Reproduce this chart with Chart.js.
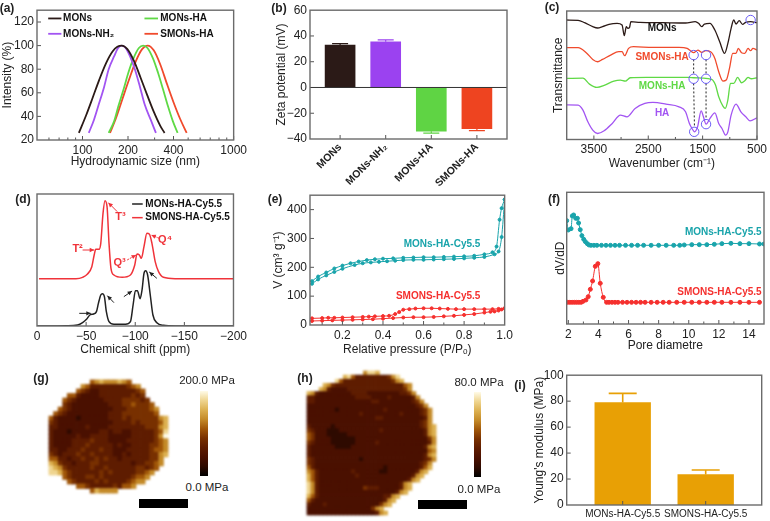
<!DOCTYPE html>
<html>
<head>
<meta charset="utf-8">
<title>Nanoparticle characterisation</title>
<script src="https://cdn.jsdelivr.net/npm/chart.js@4"></script>
<style>
  html, body { margin: 0; background: #fff; }
  #page { position: relative; width: 770px; height: 521px; overflow: hidden; font-family: "Liberation Sans", Arial, sans-serif; color: #222; }
  canvas { position: absolute; }
  .txt { position: absolute; white-space: nowrap; transform: translate(-50%, -50%); font-size: 11.5px; }
  .tag { font-weight: bold; font-size: 12px; }
  .blk { position: absolute; }
</style>
</head>
<body>
<div id="page"></div>
<script>
// (a) size distribution
const aMonsX = [94.6, 105.7, 116.9, 129, 143, 158, 170, 182, 198, 219, 242, 268, 296, 327, 349];
const aMonsY = [26, 41, 56, 71, 85, 95, 99, 100, 97, 87, 73, 58, 44, 32, 26];
const aNh2X = [110, 119, 128, 139, 149, 162, 172, 182, 193, 206, 222, 240, 258, 283, 306];
const aNh2Y = [26, 37, 50, 65, 80, 91, 98, 100, 98, 91, 80, 65, 50, 37, 26];
const aHaX = [149, 162, 173, 187, 201, 217, 236, 252, 269, 293, 316, 341, 367, 396, 426];
const aHaY = [26, 36, 49, 63, 77, 89, 98, 100, 98, 89, 77, 63, 49, 36, 26];
const aSmonX = [152, 166, 184, 203, 224, 248, 270, 296, 327, 361, 400, 442, 489];
const aSmonY = [26, 38, 55, 71, 86, 97, 100, 96, 84, 68, 52, 38, 26];

// (b) zeta potential
const bNames = ["MONs", "MONs-NH₂", "MONs-HA", "SMONs-HA"];
const bValues = [33, 35.5, -34, -32];
const bErrors = [34, 37, -35.5, -33.5];

// (c) FTIR
const cMonsX = [4000, 3790, 3671, 3521, 3431, 3341, 3222, 3072, 2982, 2940, 2904, 2874, 2844, 2820, 2653, 2234, 1814, 1635, 1575, 1515, 1467, 1365, 1275, 1186, 1096, 1036, 976, 928, 886, 826, 766, 706, 617, 500];
const cMonsY = [358, 357, 350, 338, 334, 338, 345, 348, 343, 311, 338, 333, 336, 353, 351, 350, 349, 353, 348, 338, 346, 348, 328, 293, 258, 288, 333, 358, 346, 356, 345, 351, 353, 350];
const cSmonX = [4000, 3790, 3641, 3521, 3431, 3341, 3192, 3042, 2982, 2934, 2862, 2772, 2413, 1934, 1784, 1725, 1665, 1587, 1515, 1443, 1353, 1275, 1204, 1126, 1066, 1006, 946, 886, 844, 784, 725, 665, 617, 575, 500];
const cSmonY = [275, 275, 260, 240, 233, 240, 253, 263, 263, 251, 273, 278, 276, 276, 273, 266, 260, 268, 261, 266, 263, 243, 203, 175, 178, 213, 258, 258, 273, 260, 258, 273, 266, 273, 268];
const cHaX = [4000, 3701, 3581, 3443, 3311, 3132, 3012, 2922, 2832, 2533, 1754, 1665, 1515, 1335, 1263, 1204, 1126, 1084, 1036, 988, 928, 856, 784, 725, 665, 605, 500];
const cHaY = [183, 184, 166, 156, 162, 175, 178, 175, 185, 186, 186, 185, 184, 180, 163, 128, 100, 93, 118, 168, 168, 186, 170, 176, 186, 182, 185];
const cPureX = [4000, 3790, 3701, 3611, 3521, 3431, 3311, 3162, 3012, 2892, 2742, 2563, 2413, 2174, 1934, 1814, 1743, 1695, 1647, 1593, 1527, 1485, 1437, 1365, 1275, 1204, 1144, 1078, 1036, 976, 886, 796, 706, 628, 500];
const cPureY = [104, 103, 88, 53, 28, 18, 26, 48, 73, 68, 93, 108, 111, 106, 98, 83, 48, 33, 23, 38, 86, 68, 46, 63, 80, 48, 33, 13, 23, 73, 106, 83, 68, 56, 65];

// (d) NMR
const dMonsX = [0, -29.6, -41.3, -46.4, -50.4, -53.8, -57.5, -60.5, -62.5, -64.9, -66.6, -68.6, -70.6, -73.3, -78.3, -90.1, -95.1, -97.8, -100.2, -102.2, -104.9, -106.9, -108.9, -110.6, -112.6, -115.3, -118, -122, -128.7, -140.5, -200];
const dMonsY = [0, 1, 3, 10, 20, 33, 36, 43, 68, 93, 97, 88, 43, 13, 5, 5, 13, 63, 106, 106, 82, 108, 158, 166, 153, 93, 33, 10, 2, 0, 0];
const dSmonX = [-2, -39.7, -46.4, -51.4, -55.8, -58.2, -59.8, -63.2, -64.9, -67.2, -69.2, -71.3, -73.3, -75.3, -78.3, -86.7, -95.1, -99.5, -101.8, -104.2, -106.2, -108.9, -111.9, -114.3, -117, -120.3, -123.7, -128.7, -140.5, -200];
const dSmonY = [142, 142, 146, 156, 178, 213, 230, 230, 248, 338, 376, 358, 248, 173, 153, 146, 153, 183, 216, 213, 203, 238, 278, 276, 248, 193, 163, 146, 142, 142];

// (e) isotherms
const eAdsX = [0.05, 0.08, 0.12, 0.16, 0.2, 0.26, 0.3, 0.34, 0.38, 0.42, 0.46, 0.5, 0.55, 0.6, 0.65, 0.7, 0.75, 0.8, 0.85, 0.9, 0.95, 0.97, 0.985, 1];
const eAdsY = [143, 158, 172, 184, 195, 208, 214, 217, 219, 221, 223, 225, 226, 226, 227, 228, 229, 231, 233, 236, 245, 255, 305, 435];
const eDesX = [0.05, 0.08, 0.12, 0.16, 0.2, 0.24, 0.28, 0.32, 0.36, 0.4, 0.45, 0.5, 0.55, 0.6, 0.65, 0.7, 0.75, 0.8, 0.85, 0.9, 0.94, 0.96, 0.975, 0.985, 1];
const eDesY = [152, 168, 182, 196, 206, 214, 220, 225, 228, 230, 231, 233, 234, 235, 235, 236, 237, 238, 240, 245, 252, 272, 365, 405, 435];
const eSAdsX = [0.05, 0.1, 0.15, 0.2, 0.25, 0.3, 0.35, 0.4, 0.45, 0.5, 0.55, 0.6, 0.65, 0.7, 0.75, 0.8, 0.85, 0.9, 0.93, 0.95, 0.97, 0.985, 1];
const eSAdsY = [14, 15, 16, 17, 18, 19, 20, 22, 24, 26, 27, 27, 28, 30, 32, 35, 38, 43, 46, 47, 50, 54, 58];
const eSDesX = [0.05, 0.1, 0.13, 0.16, 0.2, 0.25, 0.3, 0.33, 0.36, 0.4, 0.43, 0.46, 0.48, 0.5, 0.53, 0.56, 0.6, 0.64, 0.68, 0.72, 0.76, 0.8, 0.85, 0.9, 0.94, 0.97, 1];
const eSDesY = [23, 24, 25, 25, 26, 27, 28, 29, 30, 31, 32, 38, 45, 53, 55, 57, 58, 58, 57, 56, 55, 55, 55, 55, 55, 56, 58];

// (f) pore size
const fMonsX = [1.89, 2, 2.18, 2.26, 2.35, 2.49, 2.6, 2.68, 2.79, 2.9, 3.02, 3.13, 3.26, 3.37, 3.5, 3.7, 3.9, 4.2, 4.5, 4.8, 5.1, 5.4, 5.8, 6.2, 6.6, 7, 7.5, 8, 8.5, 9, 9.4, 9.7, 10.2, 10.7, 11.2, 11.7, 12.2, 12.8, 13.4, 14, 14.7, 15];
const fMonsY = [310, 282, 286, 324, 327, 317, 317, 303, 283, 265, 254, 247, 241, 237, 236, 236, 236, 236, 236, 236, 236, 236, 236, 236, 236, 236, 236, 236, 236, 236, 236, 237, 238, 238, 238, 239, 241, 242, 241, 241, 240, 240];
const fSmonX = [1.95, 2.1, 2.25, 2.4, 2.55, 2.7, 2.85, 2.98, 3.17, 3.32, 3.46, 3.61, 3.79, 3.96, 4.12, 4.32, 4.54, 4.7, 4.9, 5.1, 5.3, 5.6, 5.9, 6.2, 6.5, 6.8, 7.1, 7.5, 7.9, 8.3, 8.7, 9.2, 9.7, 10.2, 10.7, 11.2, 11.7, 12.2, 12.8, 13.4, 14, 14.7];
const fSmonY = [65, 65, 65, 65, 65, 65, 65, 68, 72, 82, 104, 129, 173, 181, 122, 80, 65, 65, 65, 65, 65, 65, 65, 65, 65, 65, 65, 65, 65, 65, 65, 65, 65, 65, 65, 65, 65, 65, 65, 65, 65, 65];

// (g) (h) modulus maps, one digit per cell (0 dark .. 9 light)
const gRows = [
  ".........567666765",
  ".......6533333333456",
  "......543223333333345",
  "....55322223333333434",
  "...5432222223333444434",
  "...43222222223334454445",
  "..5432222222223334444456",
  ".54322222222233344444445",
  "53222212222223334344444467",
  "43222222222222333343444457",
  "33222222322223333333344467",
  "32221222222332332233333458",
  "32222232233332222233333469",
  "32222333343332222333333456",
  "32222333433333232233334456",
  "33223334333433222333334556",
  "43233343343333223233334467",
  "5533233433434332333333446",
  "7643323334433333332334456",
  "876433333433433333344345",
  "88754333333434333334456",
  "...5433344343333334556",
  "....54333343433334566",
  "......5543333343556",
  ".........576666"
];
const hRows = [
  "..............6887",
  ".........78533333333468",
  ".......85333333333333467",
  "....7643333333333333333356",
  "...76322223333333333333346",
  "763222222223333222222223346",
  "3322222222223333222232222236",
  "33222222222222223322222222346",
  "222222222222222222222222222346",
  "2222222122222222222322222222346",
  "2222222222222322222222232222346",
  "2222222222222222233222222222236",
  "2222222222222222222222222222346",
  "32222212222222222222222222223467",
  "43222111222222222232222222222367",
  "54222111112222222222222222222367",
  "54222211111122222222222222222246",
  "43222211111122222322222222222236",
  "32222221111222222222222222222367",
  "32222222222222222222222222222256",
  "32222222222222222222222222222367",
  "43222222222221222222222222222346",
  "4322222222222222222222222222346",
  "5322222222222222222122222222357",
  "653222222223222222112222222367",
  "75322222222232222222222222367",
  "7532222222222222222222222367",
  "86322222222222222222222367",
  "86322222222222433322222367",
  "8632222222222222222222367",
  "75322222222222222223367",
  "5322222222222222222367",
  "322232222222222222467",
  "2222222222222222467",
  "22222222222222222367"
];

// (i) Young's modulus
const iNames = ["MONs-HA-Cy5.5", "SMONS-HA-Cy5.5"];
const iValues = [79, 23.5];
const iErrors = [86, 27];

const black = "#2b1a17", purple = "#a254f2", green = "#5fd945", red = "#f04a2c";
const teal = "#19a4ab", red2 = "#f5302e";
const heatStops = ["#000000", "#2e0a00", "#4a1000", "#5e1c00", "#783000", "#a05608", "#c48a28", "#dcb050", "#efd590", "#fffbe8"];

Chart.defaults.font.family = '"Liberation Sans", Arial, sans-serif';
Chart.defaults.font.size = 12;
Chart.defaults.color = "#222";

const page = document.getElementById("page");

function pts(xs, ys) {
  return xs.map((x, i) => ({ x: x, y: ys[i] }));
}

function line(xs, ys, color, width, radius) {
  return {
    type: "line",
    data: pts(xs, ys),
    borderColor: color,
    backgroundColor: color,
    borderWidth: width,
    pointRadius: radius || 0,
    cubicInterpolationMode: "monotone",
    fill: false
  };
}

// plot frame and inward tick marks
Chart.register({
  id: "frame",
  afterDatasetsDraw(chart, args, opts) {
    const ctx = chart.ctx, a = chart.chartArea;
    const marks = [["x", opts.xMajor, 4], ["x", opts.xMinor, 2.5], ["y", opts.yMajor, 4], ["y", opts.yMinor, 2.5]];
    ctx.save();
    ctx.strokeStyle = "#555";
    ctx.lineWidth = 1;
    marks.forEach(([axis, list, len]) => {
      (list || []).forEach((v) => {
        const p = chart.scales[axis].getPixelForValue(v);
        ctx.beginPath();
        if (axis === "x") { ctx.moveTo(p, a.bottom); ctx.lineTo(p, a.bottom - len); }
        else { ctx.moveTo(a.left, p); ctx.lineTo(a.left + len, p); }
        ctx.stroke();
      });
    });
    if (opts.zero) {
      const p = chart.scales.y.getPixelForValue(0);
      ctx.strokeStyle = "#333";
      ctx.beginPath(); ctx.moveTo(a.left, p); ctx.lineTo(a.right, p); ctx.stroke();
    }
    ctx.strokeStyle = "#6b6b6b";
    ctx.lineWidth = 1.4;
    ctx.strokeRect(a.left, a.top, a.right - a.left, a.bottom - a.top);
    ctx.restore();
  }
});

// error bars on top of bar panels
Chart.register({
  id: "errs",
  afterDatasetsDraw(chart, args, opts) {
    if (!opts.values) return;
    const ctx = chart.ctx, xs = chart.scales.x, ys = chart.scales.y;
    ctx.save();
    ctx.lineWidth = opts.lineWidth;
    opts.values.forEach((v, i) => {
      const x = xs.getPixelForValue(i), y = ys.getPixelForValue(v);
      ctx.strokeStyle = opts.colors[i];
      ctx.beginPath();
      ctx.moveTo(x, ys.getPixelForValue(opts.from[i]));
      ctx.lineTo(x, y);
      ctx.moveTo(x - opts.cap / 2, y);
      ctx.lineTo(x + opts.cap / 2, y);
      ctx.stroke();
    });
    ctx.restore();
  }
});

// labels, arrows and circles placed in data coordinates
Chart.register({
  id: "notes",
  afterDraw(chart, args, opts) {
    const ctx = chart.ctx, xs = chart.scales.x, ys = chart.scales.y;
    const X = (v) => xs.getPixelForValue(v), Y = (v) => ys.getPixelForValue(v);
    ctx.save();
    (opts.lines || []).forEach((l) => {
      ctx.strokeStyle = l.color;
      ctx.lineWidth = l.width || 1;
      ctx.setLineDash(l.dash || []);
      ctx.beginPath(); ctx.moveTo(X(l.x1), Y(l.y1)); ctx.lineTo(X(l.x2), Y(l.y2)); ctx.stroke();
    });
    ctx.setLineDash([]);
    (opts.arrows || []).forEach((l) => {
      const x1 = X(l.x1), y1 = Y(l.y1), x2 = X(l.x2), y2 = Y(l.y2);
      const t = Math.atan2(y2 - y1, x2 - x1);
      ctx.strokeStyle = l.color; ctx.fillStyle = l.color; ctx.lineWidth = 1;
      ctx.setLineDash(l.dash || []);
      ctx.beginPath(); ctx.moveTo(x1, y1); ctx.lineTo(x2, y2); ctx.stroke();
      ctx.setLineDash([]);
      ctx.beginPath();
      ctx.moveTo(x2, y2);
      ctx.lineTo(x2 - 5 * Math.cos(t - 0.45), y2 - 5 * Math.sin(t - 0.45));
      ctx.lineTo(x2 - 5 * Math.cos(t + 0.45), y2 - 5 * Math.sin(t + 0.45));
      ctx.closePath(); ctx.fill();
    });
    (opts.circles || []).forEach((c) => {
      ctx.strokeStyle = c.color; ctx.lineWidth = 1;
      ctx.beginPath(); ctx.arc(X(c.x), Y(c.y), c.r, 0, Math.PI * 2); ctx.stroke();
    });
    (opts.labels || []).forEach((l) => {
      ctx.fillStyle = l.color;
      ctx.font = 'bold ' + (l.size || 10) + 'px "Liberation Sans", Arial, sans-serif';
      ctx.textAlign = l.align || "center";
      ctx.textBaseline = "middle";
      ctx.fillText(l.text, X(l.x), Y(l.y));
    });
    ctx.restore();
  }
});

// box is the canvas on the page, plot is where the chart area has to land
function panel(box, plot, type, datasets, xOpts, yOpts, plugins) {
  const c = document.createElement("canvas");
  c.width = box.w; c.height = box.h;
  c.style.left = box.x + "px"; c.style.top = box.y + "px";
  c.style.width = box.w + "px"; c.style.height = box.h + "px";
  page.appendChild(c);
  xOpts.afterFit = (s) => { s.height = box.y + box.h - plot.b; };
  yOpts.afterFit = (s) => { s.width = plot.l - box.x; };
  return new Chart(c, {
    type: type,
    data: { datasets: datasets },
    options: {
      responsive: false,
      animation: false,
      layout: { padding: { left: 0, bottom: 0, top: plot.t - box.y, right: box.x + box.w - plot.r } },
      scales: { x: xOpts, y: yOpts },
      plugins: Object.assign({ legend: { display: false }, tooltip: { enabled: false } }, plugins)
    }
  });
}

function axis(type, min, max, list, extra) {
  const fmt = (extra && extra.fmt) || ((v) => String(v).replace("-", "−"));
  const o = {
    type: type, min: min, max: max, offset: false,
    grid: { display: false, drawTicks: false },
    border: { display: false },
    afterBuildTicks: (s) => { s.ticks = list.map((v) => ({ value: v })); },
    ticks: Object.assign({ autoSkip: false, maxRotation: 0, minRotation: 0, padding: 3, display: list.length > 0, callback: fmt }, extra && extra.ticks)
  };
  if (extra && extra.reverse) o.reverse = true;
  if (extra && extra.title) o.title = { display: true, text: extra.title, padding: 0, font: { size: 12 } };
  return o;
}

function text(s, x, y, cls) {
  const el = document.createElement("span");
  el.className = "txt " + (cls || "");
  el.textContent = s;
  el.style.left = x + "px"; el.style.top = y + "px";
  page.appendChild(el);
}

function block(x, y, w, h, bg) {
  const el = document.createElement("div");
  el.className = "blk";
  el.style.cssText = "left:" + x + "px;top:" + y + "px;width:" + w + "px;height:" + h + "px;background:" + bg;
  page.appendChild(el);
}

function heatmap(rows, box) {
  const cols = Math.max(...rows.map((r) => r.length));
  const cells = [];
  rows.forEach((r, j) => {
    r.split("").forEach((ch, i) => {
      if (ch !== ".") cells.push({ x: i + 0.5, y: j + 0.5, v: +ch });
    });
  });
  const c = document.createElement("canvas");
  c.width = box.w; c.height = box.h;
  c.style.left = box.x + "px"; c.style.top = box.y + "px";
  c.style.width = box.w + "px"; c.style.height = box.h + "px";
  c.style.filter = "blur(0.8px)";
  page.appendChild(c);
  const cell = Math.max(box.w / cols, box.h / rows.length);
  new Chart(c, {
    type: "scatter",
    data: {
      datasets: [{
        data: cells,
        pointStyle: "rect",
        pointRadius: (cell + 0.5) / Math.SQRT2,
        borderWidth: 0,
        pointBorderWidth: 0,
        clip: false,
        pointBackgroundColor: (ctx) => heatStops[ctx.raw ? ctx.raw.v : 0]
      }]
    },
    options: {
      responsive: false,
      animation: false,
      scales: {
        x: { type: "linear", display: false, min: 0, max: cols },
        y: { type: "linear", display: false, min: 0, max: rows.length, reverse: true }
      },
      plugins: { legend: { display: false }, tooltip: { enabled: false }, frame: false, errs: false, notes: false }
    }
  });
}

// (a)
panel({ x: 0, y: 0, w: 250, h: 169 }, { l: 37, r: 236, t: 7.5, b: 140 }, "line",
  [line(aMonsX, aMonsY, black, 1.8), line(aNh2X, aNh2Y, purple, 1.8), line(aHaX, aHaY, green, 1.8), line(aSmonX, aSmonY, red, 1.8)],
  axis("logarithmic", 50, 1000, [100, 200, 400, 1000], { title: "Hydrodynamic size (nm)" }),
  axis("linear", 20, 130, [20, 40, 60, 80, 100, 120], { title: "Intensity (%)" }),
  {
    frame: { xMajor: [100, 200, 400, 1000], xMinor: [60, 70, 80, 90, 300, 500, 600, 700, 800, 900], yMajor: [40, 60, 80, 100, 120] },
    notes: {
      lines: [
        { x1: 59.3, x2: 72.5, y1: 123, y2: 123, color: black, width: 1.8 },
        { x1: 59.3, x2: 72.5, y1: 110, y2: 110, color: purple, width: 1.8 },
        { x1: 257, x2: 316, y1: 123, y2: 123, color: green, width: 1.8 },
        { x1: 257, x2: 316, y1: 110, y2: 110, color: red, width: 1.8 }
      ],
      labels: [
        { text: "MONs", x: 74.4, y: 123, color: "#111", align: "left" },
        { text: "MONs-NH₂", x: 74.4, y: 110, color: "#111", align: "left" },
        { text: "MONs-HA", x: 327, y: 123, color: "#111", align: "left" },
        { text: "SMONs-HA", x: 327, y: 110, color: "#111", align: "left" }
      ]
    }
  });
text("(a)", 7, 8, "tag");

// (b)
const bColors = [black, "#9b42f0", "#5fd444", "#ee4420"];
panel({ x: 274, y: 0, w: 240, h: 190 }, { l: 310, r: 507, t: 8.7, b: 139 }, "bar",
  [{ data: pts([0, 1, 2, 3], bValues), backgroundColor: bColors, barThickness: 30 }],
  axis("linear", -0.66, 3.66, [0, 1, 2, 3], {
    fmt: (v) => bNames[v],
    ticks: { minRotation: 45, maxRotation: 45, padding: 2, font: { size: 10.5, weight: "bold" } }
  }),
  axis("linear", -40, 60, [-40, -20, 0, 20, 40, 60], { title: "Zeta potential (mV)" }),
  {
    frame: { xMajor: [0, 1, 2, 3], yMajor: [-20, 20, 40], zero: true },
    errs: { values: bErrors, from: bValues, colors: bColors, cap: 16, lineWidth: 1.2 }
  });
text("(b)", 279, 8, "tag");

// (c)
const ring = "#6a5cf5";
panel({ x: 551, y: 0, w: 219, h: 171 }, { l: 566.7, r: 760.7, t: 11, b: 139.5 }, "line",
  [line(cMonsX, cMonsY, black, 1.3), line(cSmonX, cSmonY, red, 1.3), line(cHaX, cHaY, green, 1.3), line(cPureX, cPureY, purple, 1.3)],
  axis("linear", 500, 4000, [3500, 2500, 1500, 500], { reverse: true, title: "Wavenumber (cm⁻¹)" }),
  axis("linear", 0, 385, [], { title: "Transmittance" }),
  {
    frame: { xMajor: [3500, 2500, 1500, 500], xMinor: [3000, 2000, 1000] },
    notes: {
      lines: [
        { x1: 1665, x2: 1665, y1: 240, y2: 195, color: "#222", dash: [2, 2] },
        { x1: 1437, x2: 1437, y1: 240, y2: 195, color: "#222", dash: [2, 2] },
        { x1: 1665, x2: 1650, y1: 168, y2: 36, color: "#222", dash: [2, 2] },
        { x1: 1437, x2: 1437, y1: 168, y2: 60, color: "#222", dash: [2, 2] }
      ],
      circles: [
        { x: 617, y: 358, r: 4.7, color: ring },
        { x: 1665, y: 253, r: 4.7, color: ring },
        { x: 1437, y: 253, r: 4.7, color: ring },
        { x: 1665, y: 182, r: 4.7, color: ring },
        { x: 1437, y: 182, r: 4.7, color: ring },
        { x: 1655, y: 23, r: 4.7, color: ring },
        { x: 1437, y: 46, r: 4.7, color: ring }
      ],
      labels: [
        { text: "MONs", x: 2245, y: 333, color: "#111" },
        { text: "SMONs-HA", x: 2245, y: 246, color: red },
        { text: "MONs-HA", x: 2245, y: 160, color: green },
        { text: "HA", x: 2245, y: 80, color: purple }
      ]
    }
  });
text("(c)", 552, 7, "tag");

// (d)
const dBlack = "#222", dRed = "#f0333a";
panel({ x: 10, y: 185, w: 240, h: 172 }, { l: 37, r: 236, t: 194, b: 326 }, "line",
  [line(dMonsX, dMonsY, dBlack, 1.5), line(dSmonX, dSmonY, dRed, 1.5)],
  axis("linear", -200, 0, [0, -50, -100, -150, -200], { reverse: true, title: "Chemical shift (ppm)" }),
  axis("linear", 0, 396, []),
  {
    frame: { xMajor: [-50, -100, -150] },
    notes: {
      lines: [
        { x1: -96.8, x2: -107.6, y1: 366, y2: 366, color: dBlack, width: 1.5 },
        { x1: -96.8, x2: -107.6, y1: 325, y2: 325, color: dRed, width: 1.5 }
      ],
      arrows: [
        { x1: -43, y1: 38, x2: -54.8, y2: 38, color: dBlack },
        { x1: -78.3, y1: 70, x2: -71.6, y2: 91, color: dBlack },
        { x1: -88.4, y1: 88, x2: -96.8, y2: 105, color: dBlack },
        { x1: -122, y1: 143, x2: -114.3, y2: 162, color: dBlack },
        { x1: -46.4, y1: 228, x2: -58.2, y2: 228, color: dRed },
        { x1: -81.7, y1: 343, x2: -72.6, y2: 370, color: dRed },
        { x1: -91.8, y1: 198, x2: -100.8, y2: 213, color: dRed, dash: [2, 1] },
        { x1: -124.4, y1: 263, x2: -116.3, y2: 273, color: dRed, dash: [2, 1] }
      ],
      labels: [
        { text: "MONs-HA-Cy5.5", x: -110.3, y: 366, color: "#111", align: "left" },
        { text: "SMONS-HA-Cy5.5", x: -110.3, y: 325, color: "#111", align: "left" },
        { text: "T²", x: -41.3, y: 230, color: dRed, size: 11 },
        { text: "T³", x: -85, y: 328, color: dRed, size: 11 },
        { text: "Q³", x: -84, y: 188, color: dRed, size: 11 },
        { text: "Q⁴", x: -130.4, y: 258, color: dRed, size: 11 }
      ]
    }
  });
text("(d)", 23, 199, "tag");

// (e)
panel({ x: 271, y: 185, w: 245, h: 172 }, { l: 310, r: 507, t: 194, b: 325 }, "line",
  [
    line(eAdsX, eAdsY, teal, 1, 1.5), line(eDesX, eDesY, teal, 1, 1.5),
    line(eSAdsX, eSAdsY, red2, 1, 1.5), line(eSDesX, eSDesY, red2, 1, 1.5)
  ],
  axis("linear", 0.04, 1, [0.2, 0.4, 0.6, 0.8, 1], { fmt: (v) => v.toFixed(1), title: "Relative pressure (P/Pₒ)" }),
  axis("linear", 0, 450, [0, 100, 200, 300, 400], { title: "V (cm³ g⁻¹)" }),
  {
    frame: { xMajor: [0.2, 0.4, 0.6, 0.8], xMinor: [0.1, 0.3, 0.5, 0.7, 0.9], yMajor: [100, 200, 300, 400] },
    notes: {
      labels: [
        { text: "MONs-HA-Cy5.5", x: 0.691, y: 281, color: teal },
        { text: "SMONS-HA-Cy5.5", x: 0.672, y: 98, color: red2 }
      ]
    }
  });
text("(e)", 275, 199, "tag");

// (f)
panel({ x: 553, y: 185, w: 217, h: 168 }, { l: 566.7, r: 764, t: 192.3, b: 324 }, "line",
  [line(fMonsX, fMonsY, teal, 1, 2), line(fSmonX, fSmonY, red2, 1, 2)],
  axis("linear", 1.89, 15, [2, 4, 6, 8, 10, 12, 14], { title: "Pore diametre" }),
  axis("linear", 0, 395, [], { title: "dV/dD" }),
  {
    frame: { xMajor: [2, 4, 6, 8, 10, 12, 14], xMinor: [3, 5, 7, 9, 11, 13] },
    notes: {
      labels: [
        { text: "MONs-HA-Cy5.5", x: 12.29, y: 274, color: teal },
        { text: "SMONS-HA-Cy5.5", x: 12.04, y: 95, color: red2 }
      ]
    }
  });
text("(f)", 554, 199, "tag");

// (g)
heatmap(gRows, { x: 45, y: 376, w: 127, h: 121 });
text("(g)", 41, 378, "tag");
block(200, 391, 8, 85, "linear-gradient(to top," + heatStops.join(",") + ")");
text("200.0 MPa", 207, 380);
text("0.0 MPa", 207, 487);
block(139, 499, 49, 9, "#000");

// (h)
heatmap(hRows, { x: 303, y: 367, w: 137, h: 152 });
text("(h)", 305, 378, "tag");
block(474, 392, 7, 85, "linear-gradient(to top," + heatStops.join(",") + ")");
text("80.0 MPa", 479, 382);
text("0.0 MPa", 479, 489);
block(418, 500, 49, 9, "#000");

// (i)
const gold = "#e8a005";
panel({ x: 532, y: 365, w: 238, h: 156 }, { l: 566.7, r: 761.7, t: 374.7, b: 505 }, "bar",
  [{ data: pts([0, 1], iValues), backgroundColor: gold, barThickness: 55.7 }],
  axis("linear", -0.675, 1.675, [0, 1], { fmt: (v) => iNames[v], ticks: { padding: 3, font: { size: 10 } } }),
  axis("linear", 0, 100, [0, 20, 40, 60, 80, 100], { title: "Young's modulus (MPa)" }),
  {
    frame: { xMajor: [0, 1], yMajor: [20, 40, 60, 80] },
    errs: { values: iErrors, from: iValues, colors: [gold, gold], cap: 28, lineWidth: 1.6 }
  });
text("(i)", 520, 385, "tag");
</script>
</body>
</html>
